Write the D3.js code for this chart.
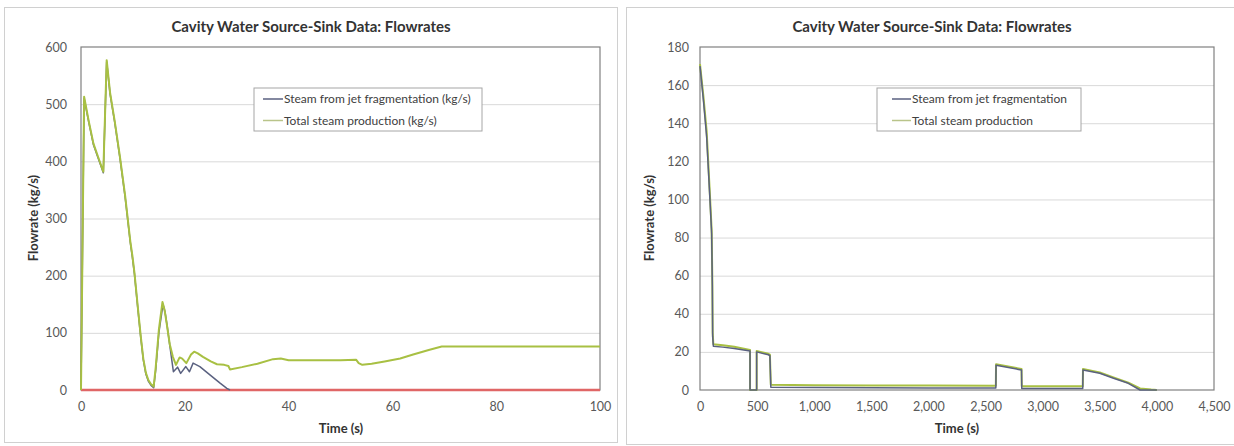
<!DOCTYPE html>
<html>
<head>
<meta charset="utf-8">
<script src="https://cdn.jsdelivr.net/npm/d3@7"></script>
<style>
  html, body { margin: 0; padding: 0; background: #fff; }
  svg { display: block; font-family: Lato, "Open Sans", sans-serif; }
</style>
</head>
<body>
<svg id="chart" width="1234" height="446"></svg>
<script>
// ---------- DATA ----------
const chartTitle = "Cavity Water Source-Sink Data: Flowrates";
const xAxisTitle = "Time (s)";
const yAxisTitle = "Flowrate (kg/s)";

// Left chart (0-100 s)
const leftXTicks = [0, 20, 40, 60, 80, 100];
const leftYTicks = [0, 100, 200, 300, 400, 500, 600];
const leftLegend = ["Steam from jet fragmentation (kg/s)", "Total steam production (kg/s)"];

const leftTotalTime = [0, 0.6, 1.5, 2.4, 3.4, 4.3, 4.95, 5.6, 6.5, 7.5, 8.5, 9.5, 9.9, 10.3, 11.0, 11.5, 12.0, 12.5, 13.0, 13.5, 14.0, 14.4, 15.0, 15.7, 16.1, 16.5, 17.1, 17.7, 18.3, 19.0, 19.5, 20.3, 21.2, 21.8, 22.5, 23.5, 25.0, 26.2, 27.6, 28.4, 28.7, 31, 34, 37, 38.5, 40, 45, 50, 53, 53.5, 54.2, 56, 58.5, 61.5, 64, 67, 69.5, 75, 85, 100];
const leftTotalFlow = [0, 513, 470, 431, 405, 382, 577, 520, 470, 408, 340, 260, 235, 205, 140, 95, 55, 30, 17, 10, 6, 40, 105, 154, 140, 117, 80, 58, 44, 57, 55, 47, 62, 67, 64, 58, 50, 45, 44, 42, 36, 40, 46, 54, 55, 52, 52, 52, 53, 47, 44, 46, 50, 55, 62, 70, 76, 76, 76, 76];

const leftJetTime = [0, 0.6, 1.5, 2.4, 3.4, 4.3, 4.95, 5.6, 6.5, 7.5, 8.5, 9.5, 9.9, 10.3, 11.0, 11.5, 12.0, 12.5, 13.0, 13.5, 14.0, 14.4, 15.0, 15.8, 16.2, 16.6, 17.2, 17.8, 18.6, 19.2, 20.2, 20.9, 21.6, 22.9, 24.9, 26.8, 28.1, 28.7];
const leftJetFlow = [0, 510, 468, 429, 403, 380, 574, 518, 468, 406, 338, 258, 232, 203, 138, 93, 53, 28, 15, 8, 4, 35, 100, 150, 136, 112, 72, 32, 40, 29, 41, 32, 47, 41, 26, 12, 3, 0];

const leftBaseTime = [0, 100];
const leftBaseFlow = [0, 0];

// Right chart (0-4500 s)
const rightXTicks = [0, 500, 1000, 1500, 2000, 2500, 3000, 3500, 4000, 4500];
const rightYTicks = [0, 20, 40, 60, 80, 100, 120, 140, 160, 180];
const rightLegend = ["Steam from jet fragmentation", "Total steam production"];

const rightTotalTime = [0, 30, 58, 88, 102, 108, 111, 117, 200, 300, 438, 438, 496, 496, 598, 612, 620, 1000, 1500, 2000, 2590, 2592, 2788, 2815, 2817, 3000, 3351, 3353, 3500, 3620, 3750, 3853, 3950, 4000];
const rightTotalFlow = [171, 154, 136, 101, 84, 57, 30, 24, 23.5, 22.7, 21, 0, 0, 20.5, 19, 18.6, 2.8, 2.5, 2.4, 2.3, 2.2, 13.5, 11.3, 11.0, 2.0, 2.0, 2.0, 11, 9.2, 6.6, 3.8, 0.8, 0.2, 0];

const rightJetTime = [0, 30, 58, 88, 102, 108, 111, 117, 200, 300, 438, 438, 496, 496, 598, 612, 620, 1000, 1500, 2000, 2590, 2592, 2788, 2815, 2817, 3000, 3351, 3353, 3500, 3620, 3750, 3853, 4000];
const rightJetFlow = [170, 152, 133, 99, 82, 55, 28, 23, 22.5, 21.8, 20.5, 0, 0, 20, 18.5, 18, 1.5, 1.3, 1.2, 1.1, 1.0, 13, 10.8, 10.5, 0.8, 0.8, 0.8, 10.5, 8.8, 6.2, 3.5, 0, 0];

// ---------- STYLE ----------
const colJet = "#5a6180";
const colTotal = "#a8c043";
const colBase = "#e06666";

const svg = d3.select("#chart");

function zip(t, v) { return t.map((d, i) => [d, v[i]]); }

function drawChart(opt) {
  const g = svg.append("g");
  g.append("rect").attr("x", opt.frame[0]).attr("y", opt.frame[1])
    .attr("width", opt.frame[2]).attr("height", opt.frame[3])
    .attr("fill", "#fff").attr("stroke", "#d0d0d0").attr("stroke-width", 1);

  const x = d3.scaleLinear().domain(opt.xDomain).range([opt.plot.x0, opt.plot.x1]);
  const y = d3.scaleLinear().domain(opt.yDomain).range([opt.plot.y1, opt.plot.y0]);

  g.append("g").attr("transform", `translate(${opt.plot.x0},0)`)
    .call(d3.axisLeft(y).tickValues(opt.yTicks.slice(1, -1)).tickSize(-(opt.plot.x1 - opt.plot.x0)).tickFormat(""))
    .call(a => a.select(".domain").remove())
    .call(a => a.selectAll("line").attr("stroke", "#d9d9d9"));

  g.append("rect").attr("x", opt.plot.x0).attr("y", opt.plot.y0)
    .attr("width", opt.plot.x1 - opt.plot.x0).attr("height", opt.plot.y1 - opt.plot.y0)
    .attr("fill", "none").attr("stroke", "#808080").attr("stroke-width", 1.2);

  g.append("g").attr("transform", `translate(${opt.plot.x0},0)`)
    .call(d3.axisLeft(y).tickValues(opt.yTicks).tickSize(0).tickPadding(opt.yPad).tickFormat(d3.format(",")))
    .call(a => a.select(".domain").remove())
    .call(a => a.selectAll("text").attr("fill", "#595959").style("font-size", "12.5px").style("font-family", "Lato, sans-serif"));
  g.append("g").attr("transform", `translate(0,${opt.plot.y1})`)
    .call(d3.axisBottom(x).tickValues(opt.xTicks).tickSize(0).tickPadding(12).tickFormat(d3.format(",")))
    .call(a => a.select(".domain").remove())
    .call(a => a.selectAll("text").attr("fill", "#595959").style("font-size", "12.5px").style("font-family", "Lato, sans-serif"));

  const line = d3.line().x(d => x(d[0])).y(d => y(d[1]));
  opt.series.forEach(s => {
    g.append("path").datum(s.data).attr("d", line)
      .attr("fill", "none").attr("stroke", s.color).attr("stroke-width", s.width)
      .attr("stroke-linejoin", "round");
  });

  g.append("text").attr("x", opt.titleX).attr("y", 32).attr("text-anchor", "middle")
    .style("font-size", "15px").style("font-weight", "bold").attr("fill", "#333").text(chartTitle);
  g.append("text").attr("x", opt.xTitleX).attr("y", 433).attr("text-anchor", "middle")
    .style("font-size", "13px").style("font-weight", "bold").attr("fill", "#333").text(xAxisTitle);
  g.append("text").attr("transform", `translate(${opt.yTitleX},218) rotate(-90)`).attr("text-anchor", "middle")
    .style("font-size", "13px").style("font-weight", "bold").attr("fill", "#333").text(yAxisTitle);

  const L = opt.legend;
  g.append("rect").attr("x", L.x).attr("y", L.y).attr("width", L.w).attr("height", L.h)
    .attr("fill", "#fff").attr("stroke", "#a6a6a6").attr("stroke-width", 1);
  L.items.forEach((it, i) => {
    const yy = L.y + 11 + i * 21.5;
    g.append("line").attr("x1", L.lx0).attr("x2", L.lx1).attr("y1", yy).attr("y2", yy)
      .attr("stroke", it.color).attr("stroke-width", 1.5);
    g.append("text").attr("x", L.lx1 + 1).attr("y", yy + 4)
      .style("font-size", "12px").attr("fill", "#404040").text(it.label);
  });
}

drawChart({
  frame: [4.5, 7.5, 613, 435],
  plot: { x0: 81, x1: 600, y0: 47, y1: 390 },
  xDomain: [0, 100], yDomain: [0, 600],
  xTicks: leftXTicks, yTicks: leftYTicks, yPad: 14,
  series: [
    { data: zip(leftBaseTime, leftBaseFlow), color: colBase, width: 2.5 },
    { data: zip(leftJetTime, leftJetFlow), color: colJet, width: 1.5 },
    { data: zip(leftTotalTime, leftTotalFlow), color: colTotal, width: 2 }
  ],
  titleX: 311, xTitleX: 341, yTitleX: 38,
  legend: { x: 254, y: 88, w: 228, h: 43, lx0: 263, lx1: 283,
    items: [{ label: leftLegend[0], color: colJet }, { label: leftLegend[1], color: "#b9c48a" }] }
});

drawChart({
  frame: [626.5, 7.5, 620, 437],
  plot: { x0: 700, x1: 1214, y0: 47, y1: 390 },
  xDomain: [0, 4500], yDomain: [0, 180],
  xTicks: rightXTicks, yTicks: rightYTicks, yPad: 11,
  series: [
    { data: zip(rightTotalTime, rightTotalFlow), color: colTotal, width: 2 },
    { data: zip(rightJetTime, rightJetFlow), color: colJet, width: 1.5 }
  ],
  titleX: 932, xTitleX: 957, yTitleX: 654,
  legend: { x: 877, y: 88, w: 204, h: 43, lx0: 892, lx1: 911,
    items: [{ label: rightLegend[0], color: colJet }, { label: rightLegend[1], color: "#b9c48a" }] }
});
</script>
</body>
</html>
